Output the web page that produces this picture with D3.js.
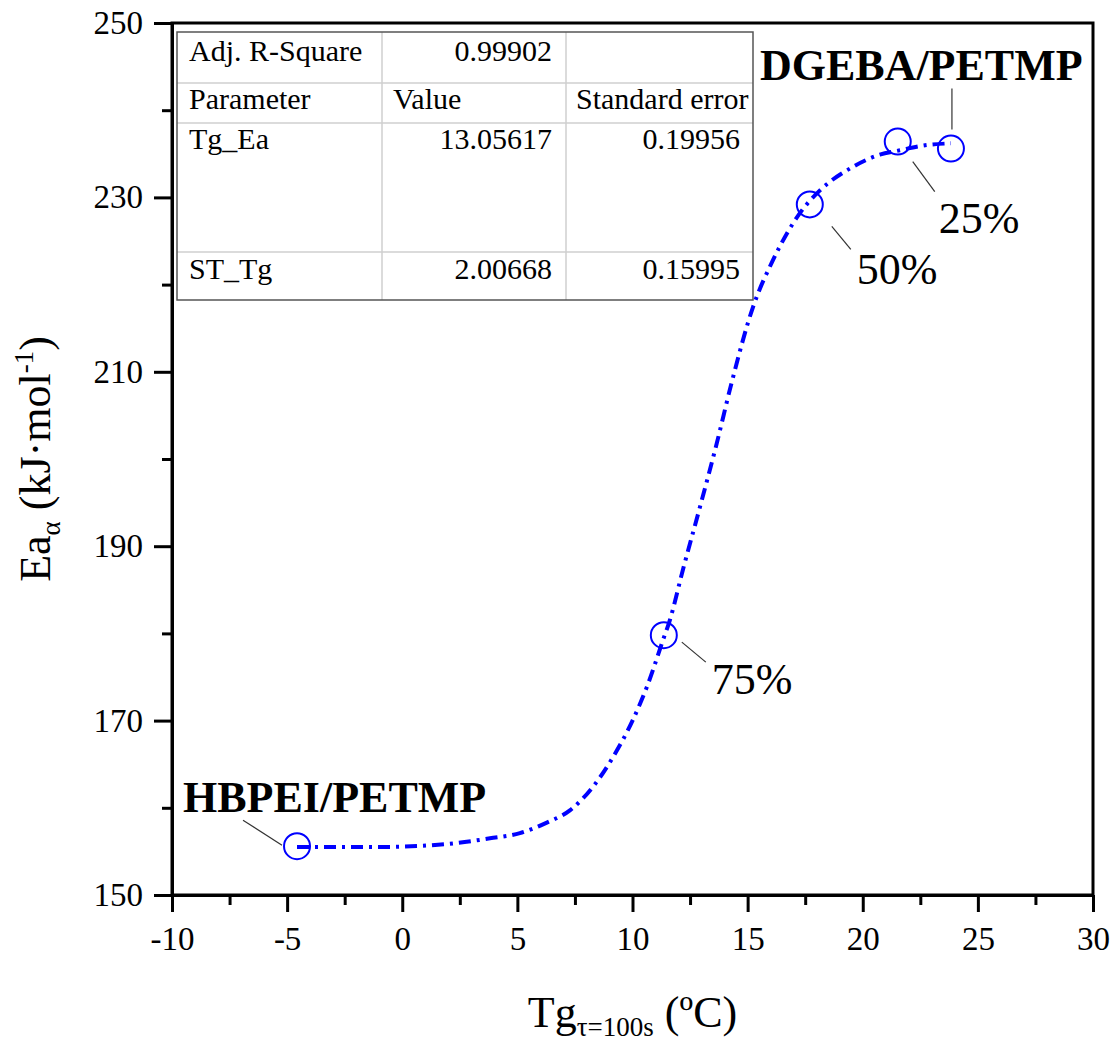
<!DOCTYPE html>
<html><head><meta charset="utf-8">
<script src="https://cdn.jsdelivr.net/npm/d3@7"></script>
<style>body{margin:0;background:#fff}svg{display:block}</style>
</head><body>
<svg id="c" width="1117" height="1043"></svg>
<script>
// ---- data ----
const pointX = [-4.57, 11.36, 17.70, 21.52, 23.83];
const pointY = [155.6, 179.8, 229.2, 236.4, 235.6];
const pointLabels = ["HBPEI/PETMP", "75%", "50%", "25%", "DGEBA/PETMP"];
const fitX = [-4.57,-0.97,1.94,3.81,5.11,6.28,7.28,8.28,9.15,10.02,10.63,11.32,11.62,12.19,12.93,13.66,14.30,15.23,16.10,17.27,18.14,19.57,20.74,21.61,22.78,23.83];
const fitY = [155.5,155.5,155.85,156.5,157.1,158.3,159.7,162.4,165.8,170.1,173.9,179.2,181.5,187.3,194.5,201.8,208.7,217.4,222.8,228.2,230.8,233.5,234.9,235.4,236.0,236.2];
const xTicks = [-10,-5,0,5,10,15,20,25,30];
const yTicks = [150,170,190,210,230,250];
const tableRows = [
  ["Adj. R-Square", "0.99902", ""],
  ["Parameter", "Value", "Standard error"],
  ["Tg_Ea", "13.05617", "0.19956"],
  ["ST_Tg", "2.00668", "0.15995"]
];

// ---- layout ----
const svg = d3.select("#c");
const L = 172, R = 1093, T = 23, B = 895;
const x = d3.scaleLinear().domain([-10, 30]).range([L, R]);
const y = d3.scaleLinear().domain([150, 250]).range([B, T]);
const fmt = d => String(d);
const SERIF = '"Liberation Serif", serif';

svg.append("rect").attr("x", L).attr("y", T).attr("width", R - L).attr("height", B - T)
  .attr("fill", "none").attr("stroke", "#000").attr("stroke-width", 3);

const xAxis = svg.append("g").attr("transform", `translate(0,${B})`)
  .call(d3.axisBottom(x).tickValues(xTicks).tickSize(17).tickSizeOuter(0).tickPadding(8).tickFormat(fmt));
svg.append("g").attr("transform", `translate(0,${B})`)
  .call(d3.axisBottom(x).tickValues(d3.range(-7.5, 30, 5)).tickSize(10).tickSizeOuter(0).tickFormat(""))
  .call(g => g.select(".domain").remove());
svg.append("g").attr("transform", `translate(${L},0)`)
  .call(d3.axisLeft(y).tickValues(yTicks).tickSize(18).tickSizeOuter(0).tickPadding(11).tickFormat(fmt));
svg.append("g").attr("transform", `translate(${L},0)`)
  .call(d3.axisLeft(y).tickValues(d3.range(160, 250, 20)).tickSize(10).tickSizeOuter(0).tickFormat(""))
  .call(g => g.select(".domain").remove());

svg.selectAll("g").attr("font-family", null);
svg.selectAll(".tick line").attr("stroke", "#000").attr("stroke-width", 3);
svg.selectAll(".domain").attr("stroke", "#000").attr("stroke-width", 3);
svg.selectAll(".tick text").attr("font-size", 33).attr("fill", "#000");
xAxis.selectAll(".tick text").attr("dy", "0.9em");

const xt = svg.append("text").attr("x", (L + R) / 2).attr("y", 1027).attr("text-anchor", "middle")
  .attr("font-size", 44).attr("fill", "#000");
xt.append("tspan").text("Tg");
xt.append("tspan").attr("font-size", 27).attr("dy", 9).text("τ=100s");
xt.append("tspan").attr("dy", -9).text(" (ºC)");

const yt = svg.append("text").attr("transform", `translate(50,${(T + B) / 2}) rotate(-90)`)
  .attr("text-anchor", "middle").attr("font-size", 44).attr("fill", "#000");
yt.append("tspan").text("Ea");
yt.append("tspan").attr("font-size", 27).attr("dy", 10).text("α");
yt.append("tspan").attr("dy", -10).text(" (kJ·mol");
yt.append("tspan").attr("font-size", 27).attr("dy", -17).text("-1");
yt.append("tspan").attr("dy", 17).text(")");

// table
const colX = [177, 382, 566, 753];
const rowY = [32, 83, 123, 252, 300];
const tb = svg.append("g");
tb.append("g").selectAll("line").data(rowY.slice(1, -1)).join("line")
  .attr("x1", colX[0]).attr("x2", colX[3]).attr("y1", d => d).attr("y2", d => d)
  .attr("stroke", "#cfcfcf").attr("stroke-width", 1.5);
tb.append("g").selectAll("line").data(colX.slice(1, -1)).join("line")
  .attr("x1", d => d).attr("x2", d => d).attr("y1", rowY[0]).attr("y2", rowY[4])
  .attr("stroke", "#cfcfcf").attr("stroke-width", 1.5);
tb.append("rect").attr("x", colX[0]).attr("y", rowY[0]).attr("width", colX[3] - colX[0]).attr("height", rowY[4] - rowY[0])
  .attr("fill", "none").attr("stroke", "#555").attr("stroke-width", 1.5);
const baselines = [61, 109, 149, 279];
tableRows.forEach((row, i) => {
  row.forEach((cell, j) => {
    if (!cell) return;
    let xx, anchor;
    if (j === 0) { xx = 189; anchor = "start"; }
    else if (i === 1) { xx = j === 1 ? 393 : 576; anchor = "start"; }
    else { xx = j === 1 ? 552 : 740; anchor = "end"; }
    tb.append("text").attr("x", xx).attr("y", baselines[i]).attr("text-anchor", anchor)
      .attr("font-size", 30).attr("fill", "#000").text(cell);
  });
});

// fit curve
const fitData = fitX.map((v, i) => [v, fitY[i]]);
svg.append("path").datum(fitData)
  .attr("d", d3.line().x(d => x(d[0])).y(d => y(d[1])).curve(d3.curveMonotoneX))
  .attr("fill", "none").attr("stroke", "#0000ff").attr("stroke-width", 4)
  .attr("stroke-dasharray", "12,6,3,6");

// points
const pts = pointX.map((v, i) => ({ x: v, y: pointY[i], label: pointLabels[i] }));
svg.append("g").selectAll("circle").data(pts).join("circle")
  .attr("cx", d => x(d.x)).attr("cy", d => y(d.y)).attr("r", 13)
  .attr("fill", "none").attr("stroke", "#0000ff").attr("stroke-width", 2);

// annotations: [leader dx1, dy1, dx2, dy2, text dx, text dy(baseline), bold]
const annot = [
  [-54, -26, -15, -1, -114, -34, true],
  [18, 7, 42, 27, 48, 59, false],
  [22, 22, 41, 45, 47, 80, false],
  [15, 20, 37, 50, 41, 91, false],
  [1, -60, 1, -19, -191, -69, true]
];
pts.forEach((p, i) => {
  const a = annot[i], px = x(p.x), py = y(p.y);
  svg.append("line").attr("x1", px + a[0]).attr("y1", py + a[1]).attr("x2", px + a[2]).attr("y2", py + a[3])
    .attr("stroke", "#333").attr("stroke-width", 1.2);
  svg.append("text").attr("x", px + a[4]).attr("y", py + a[5])
    .attr("font-size", 44).attr("font-weight", a[6] ? "bold" : "normal")
    .attr("fill", "#000").text(p.label);
});

svg.selectAll("text").style("font-family", SERIF);
</script>
</body></html>
